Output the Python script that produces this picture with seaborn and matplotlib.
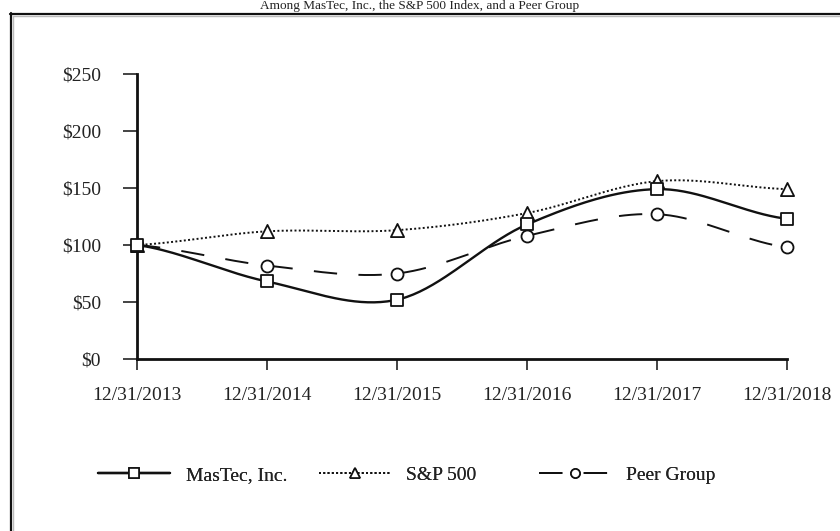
import numpy as np
import pandas as pd
import matplotlib
matplotlib.use("Agg")
import matplotlib.pyplot as plt
from matplotlib.lines import Line2D
import seaborn as sns

# ---- data ----
dates = ["12/31/2013", "12/31/2014", "12/31/2015", "12/31/2016", "12/31/2017", "12/31/2018"]
mastec = [100, 68, 52, 118, 149, 123]
sp500 = [100, 112, 113, 128, 156, 149]
peer = [100, 82, 75, 108, 127, 98]
series_names = ["MasTec, Inc.", "S&P 500", "Peer Group"]
yticks = [0, 50, 100, 150, 200, 250]
ytick_labels = ["$0", "$50", "$100", "$150", "$200", "$250"]
title = "Among MasTec, Inc., the S&P 500 Index, and a Peer Group"

sns.set_theme(style="white")
plt.rcParams["font.family"] = ["Liberation Serif", "DejaVu Serif"]

W, H = 840, 531
fig = plt.figure(figsize=(W / 100, H / 100), dpi=100)
ax = fig.add_axes([137 / W, 1 - 359 / H, 650 / W, 285 / H])

TXT = "#222222"
FS = 14


def smooth(vals, n=40):
    """Catmull-Rom style smoothing (like a spreadsheet 'smoothed line')."""
    p = np.asarray(vals, float)
    k = len(p)
    m = np.empty(k)
    m[1:-1] = (p[2:] - p[:-2]) / 2
    m[0] = (p[1] - p[0]) / 2
    m[-1] = (p[-1] - p[-2]) / 2
    xs, ys = [], []
    for i in range(k - 1):
        t = np.linspace(0, 1, n, endpoint=(i == k - 2))
        h00 = 2 * t**3 - 3 * t**2 + 1
        h10 = t**3 - 2 * t**2 + t
        h01 = -2 * t**3 + 3 * t**2
        h11 = t**3 - t**2
        ys.append(h00 * p[i] + h10 * m[i] + h01 * p[i + 1] + h11 * m[i + 1])
        xs.append(i + t)
    return np.concatenate(xs), np.concatenate(ys)


x = np.arange(len(dates))
styles = [
    dict(vals=mastec, ls="-", lw=1.7, marker="s", s=85),
    dict(vals=sp500, ls=(0, (1, 1.2)), lw=1.4, marker="^", s=90),
    dict(vals=peer, ls=(0, (12, 11)), lw=1.4, marker="o", s=75),
]

for st in styles:
    sx, sy = smooth(st["vals"])
    sns.lineplot(x=sx, y=sy, ax=ax, color="#111111", linestyle=st["ls"],
                 linewidth=st["lw"], estimator=None, sort=False, zorder=2)
for st in reversed(styles):
    sns.scatterplot(x=x, y=st["vals"], ax=ax, marker=st["marker"], s=st["s"],
                    facecolor="white", edgecolor="#111111", linewidth=1.3,
                    zorder=3, clip_on=False)

ax.set_xlim(0, len(dates) - 1)
ax.set_ylim(0, 250)
ax.set_xticks(x)
ax.set_xticklabels(dates)
ax.set_yticks(yticks)
ax.set_yticklabels(ytick_labels)
for side in ["top", "right"]:
    ax.spines[side].set_visible(False)
for side in ["left", "bottom"]:
    ax.spines[side].set_linewidth(2.0)
    ax.spines[side].set_color("#111111")
ax.tick_params(axis="y", direction="out", length=10, width=1.1, color="#111111",
               pad=16, labelsize=FS, labelcolor=TXT, left=True)
ax.tick_params(axis="x", direction="out", length=8, width=1.1, color="#111111",
               pad=12, labelsize=FS, labelcolor=TXT, bottom=True)
ax.set_xlabel("")
ax.set_ylabel("")
ax.grid(False)

# legends (equal-width columns)
leg_x = [98, 319, 539]
for st, name, lx in zip(styles, series_names, leg_x):
    h = Line2D([], [], color="#111111", linestyle=st["ls"], linewidth=st["lw"],
               marker=st["marker"], markersize=np.sqrt(st["s"]) * 0.75,
               markerfacecolor="white", markeredgecolor="#111111", markeredgewidth=1.2)
    leg = fig.legend(handles=[h], labels=[name], loc="center left",
                     bbox_to_anchor=(lx / W, 1 - 475 / H), frameon=False,
                     borderpad=0, borderaxespad=0, handlelength=3.7,
                     handletextpad=0.8, fontsize=FS, labelcolor=TXT)
    fig.add_artist(leg)

# title line at the top, above the frame
fig.text(0.5, 1 - 9.5 / H, title, ha="center", va="baseline", fontsize=9.5, color=TXT)

# outer frame (partially visible)
fig.add_artist(Line2D([10.5 / W, 10.5 / W], [1 - 13 / H, -0.1], transform=fig.transFigure,
                      color="#111111", linewidth=1.6))
fig.add_artist(Line2D([10 / W, 1.1], [1 - 13.5 / H, 1 - 13.5 / H], transform=fig.transFigure,
                      color="#111111", linewidth=1.6))
fig.add_artist(Line2D([13 / W, 13 / W], [1 - 16 / H, -0.1], transform=fig.transFigure,
                      color="#bbbbbb", linewidth=1.0))
fig.add_artist(Line2D([13 / W, 1.1], [1 - 16 / H, 1 - 16 / H], transform=fig.transFigure,
                      color="#bbbbbb", linewidth=1.0))

fig.savefig("out.png", dpi=100, facecolor="white")
